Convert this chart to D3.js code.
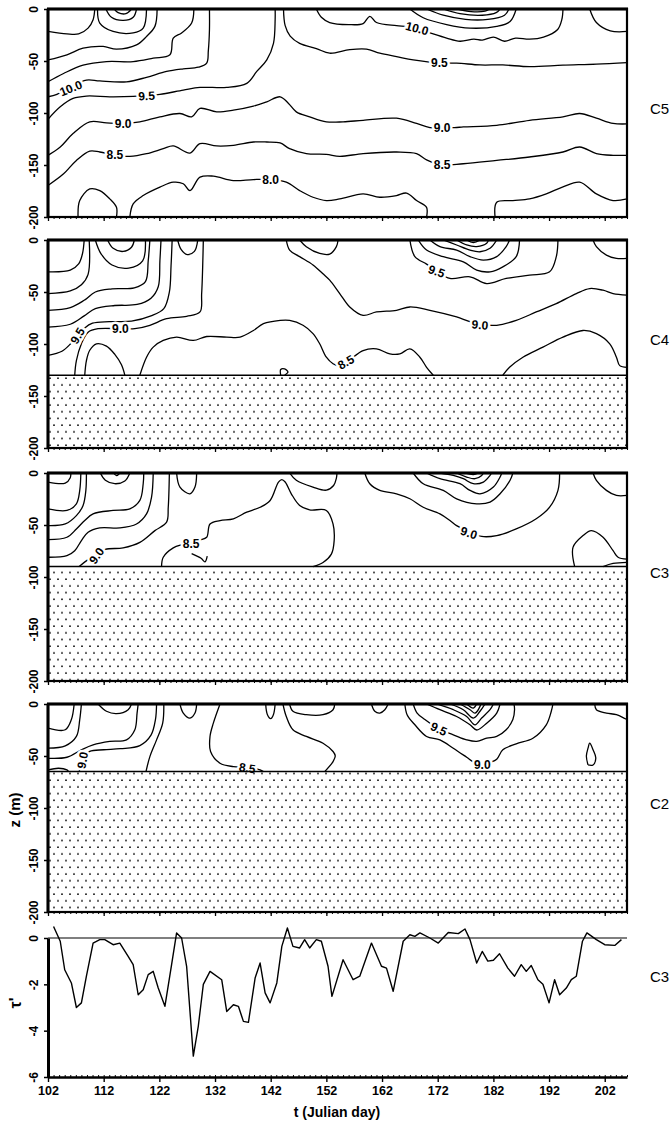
<!DOCTYPE html>
<html>
<head>
<meta charset="utf-8">
<script src="https://cdn.jsdelivr.net/npm/d3@7"></script>
<style>
  body { margin: 0; background: #fff; }
  text { font-family: "Liberation Sans", Arial, sans-serif; }
</style>
</head>
<body>
<svg width="670" height="1123"></svg>
<script>
// ---- data (day, depth in m) ----
const panelNames = ["C5", "C4", "C3", "C2"];
const floorDepth = [-200, -130, -90, -65];
const depthTicks = [0, -50, -100, -150, -200];
const dayTicks = [102, 112, 122, 132, 142, 152, 162, 172, 182, 192, 202];
const tauTicks = [0, -2, -4, -6];

// isotherms for mooring C5
const c5Lines = [
  [[102,-21.6],[105.4,-24],[107.5,-24],[109.2,-18.4],[110.1,-10.3],[110.4,0]],
  [[110.9,0],[111.3,-13.5],[113.7,-21.6],[117.3,-23],[119.1,-18.4],[119.7,0]],
  [[112.4,0],[113.4,-8],[115.5,-11],[117.3,-8],[117.9,0]],
  [[113.9,0],[114.6,-3.5],[116,-4.5],[117,0]],
  [[102,-49],[105.4,-44],[108.3,-37.7],[111.9,-36],[114.3,-38.6],[117.9,-34.5],[119.7,-26.4],[121.2,-16.7],[121.6,0]],
  [[102,-70],[104.8,-62],[108.3,-54],[112.5,-50.6],[117.3,-50.6],[120.9,-47.3],[123.9,-44],[124.5,-28],[126,-23],[127.8,-13.5],[128.2,0]],
  [[102,-84.4],[103.6,-82],[106,-75],[108.9,-68.3],[111.3,-69.2],[116.1,-70],[119.7,-65.7],[123.3,-60],[126.3,-57.5],[129,-56],[130.5,-52],[130.8,-40],[131,-20],[131,0]],
  [[102,-106],[104.2,-94],[106.5,-86],[108.9,-83.7],[113.1,-84.4],[117.3,-84],[119.7,-83],[122.1,-82],[126.3,-78],[129.3,-75.4],[134.1,-75.4],[137.7,-71.5],[139.5,-60],[141.3,-49],[142.5,-33],[142.8,-10],[142.8,0]],
  [[144.3,0],[144.6,-16],[145.5,-26],[147.2,-33],[150.2,-38],[152.6,-42.5],[156.2,-39],[159.2,-38.5],[161.6,-42.5],[164.6,-45.7],[167.6,-49],[172.5,-52],[175.4,-52],[179.6,-53.8],[183.7,-53.8],[188.5,-55.4],[194.5,-54],[200.5,-53],[206,-51.5]],
  [[150.2,0],[151.1,-8],[152.6,-13],[156,-15],[158.6,-14],[159.8,-7],[161,-13],[164.6,-16],[166.5,-17],[168.3,-19],[170.6,-23],[173.6,-28],[176,-31],[178.5,-29],[180,-30],[182,-27],[184,-31],[186,-28],[188.5,-29],[191,-27],[193.5,-20],[194.3,-10],[194.5,0]],
  [[199.3,0],[200.5,-13],[203,-21],[206,-21.6]],
  [[167,0],[169.4,-8.4],[173.6,-15],[177.8,-18.4],[182.6,-16.7],[185,-12],[186.1,0]],
  [[170,0],[173,-6],[177,-10],[181,-10],[184,-6],[184.8,0]],
  [[173,0],[176,-4.5],[180,-6],[182.5,-3.5],[183.2,0]],
  [[175.5,0],[178,-2.5],[180.5,-2],[181.3,0]],
  [[102,-140.7],[104.2,-132.7],[106.5,-119.8],[109.5,-108.5],[112.5,-109.5],[115.5,-110],[118.5,-108.5],[122.1,-103.7],[125.7,-100.5],[127.8,-103.7],[129.3,-95.6],[132.3,-98.9],[135.3,-97.3],[138.9,-93.4],[141.3,-89.2],[143.7,-84.4],[145.2,-90.8],[146.6,-98.9],[149,-103.7],[152,-108.5],[155,-108.5],[158.6,-107],[164.6,-105],[168.2,-110],[170.6,-114],[175,-114],[176.6,-113.4],[182.6,-111.8],[188.5,-107],[194.5,-103.7],[197.5,-100.5],[200.5,-105],[203.5,-110],[206,-110.5]],
  [[102,-169.7],[104.8,-158.5],[107.1,-145.6],[109.5,-136.6],[111.3,-137.5],[114,-140.5],[116.7,-141.7],[119.7,-139.1],[122.7,-134.3],[124.5,-131.7],[127.5,-138.5],[129.3,-129.5],[132.3,-131.7],[135.3,-131.1],[138.9,-127.9],[141.3,-127.9],[143.7,-128.8],[145.4,-134.3],[148.4,-139.1],[152,-139.8],[154.4,-141.7],[158.6,-139],[164.6,-137.5],[168.2,-139],[170,-145],[172.8,-150],[176.6,-148.8],[182.6,-145.6],[188.5,-142.3],[194.5,-137.5],[197.5,-132.7],[200.5,-139],[203.5,-140.7],[206,-140.7]],
  [[116.7,-200],[117.3,-187.4],[119.1,-179.4],[122.1,-171.3],[124.5,-166.5],[126.3,-168],[127.5,-174.6],[129.3,-161.7],[131.7,-160.7],[135.3,-165],[138.9,-164],[142,-164],[144.8,-166.5],[147.2,-174.6],[149.6,-181],[152,-184.2],[154.4,-182.6],[158.6,-177.8],[161.6,-181],[164.6,-179.4],[166.4,-177],[168.2,-184.2],[170,-190.7],[170,-200]],
  [[182.3,-200],[182.6,-185.8],[185.5,-184.2],[188.5,-182.6],[191.5,-177.8],[194.5,-171],[197.5,-166.5],[200.5,-177.8],[203.5,-184.2],[206,-182.6]],
  [[107.4,-200],[107.7,-184.2],[109.5,-173],[111.3,-174.6],[113.1,-182.6],[114.3,-190.7],[114.3,-200]]
];
const c5Labels = [
  [106.1,-76,"10.0",-22],[119.7,-83.5,"9.5",-3],[115.5,-110,"9.0",0],[114,-140.5,"8.5",0],
  [142,-164,"8.0",0],[168.3,-18.5,"10.0",15],[172.3,-52,"9.5",0],[172.8,-114.5,"9.0",0],[172.8,-150,"8.5",0]
];

// isotherms for mooring C4
const c4Lines = [
  [[102,-30.6],[106,-29],[107.5,-23],[108.2,-13],[108.5,0]],
  [[102,-51.5],[106,-49],[108,-43],[109.2,-33],[109.4,0]],
  [[110.5,0],[111.5,-13],[113.5,-24],[116.5,-27],[119,-20],[119.5,0]],
  [[112.7,0],[113.7,-8],[115.5,-11],[117,-7],[117.5,0]],
  [[102,-67.6],[106,-65],[108.5,-58],[110.5,-50],[113.5,-47],[117.5,-46],[119.5,-40],[120,-20],[120.3,0]],
  [[102,-83.7],[106,-81],[108.5,-73],[110.5,-66],[114,-63],[118,-62],[120.5,-56],[121.8,-45],[122.1,-20],[122.3,0]],
  [[102,-111],[104.5,-107],[106.2,-99],[107.4,-92],[108.6,-84.5],[110,-80],[113,-78.5],[117,-78],[120.5,-73],[122.8,-66],[123.8,-50],[124.1,-25],[124.3,0]],
  [[125.3,0],[125.9,-9],[127,-14],[128.3,-11],[128.9,0]],
  [[106.8,-130],[107.1,-116],[108,-99.8],[109.2,-88.6],[111,-85.3],[115,-85.3],[117.6,-85.3],[120.3,-82],[123.3,-75.7],[126.9,-73.4],[129.3,-69.2],[129.6,-51.5],[129.9,0]],
  [[108.6,-130],[108.9,-116],[109.5,-106],[110.7,-99.8],[112.5,-102],[114,-110],[115.2,-120],[115.8,-130]],
  [[118.5,-130],[119.7,-112.7],[120.9,-103],[122.7,-96.6],[125.1,-93.4],[128.1,-96.6],[130.5,-92.8],[134.1,-93.4],[136.5,-93.4],[138.9,-87],[140.7,-80.5],[143.7,-77.3],[145.4,-77.3],[147.8,-82],[149.6,-90],[150.8,-99.8],[152,-112.7],[153.2,-119],[154.4,-121],[156,-116],[158.6,-106.3],[161,-104.7],[163.4,-109.5],[165.2,-109.5],[167,-104.7],[168.8,-112.7],[170,-122.4],[171.2,-130]],
  [[183.7,-130],[184.9,-122.4],[187.3,-112.7],[190.9,-103],[194.5,-93.4],[198.1,-87],[200.5,-90],[202.9,-99.8],[204.1,-112.7],[204.7,-120.8],[206,-122.4]],
  [[143.8,-130],[143.8,-124.5],[144.5,-124],[145.1,-127],[144.5,-130]],
  [[144.8,0],[145.4,-9.7],[147.2,-16],[149.6,-24],[151.5,-33],[152.6,-38.6],[154.4,-51.5],[156.2,-64.4],[158.6,-72.5],[161,-69.2],[164.6,-67.6],[167,-64.4],[170.6,-67.6],[175.4,-74],[177.5,-78],[179.5,-81],[182.6,-82],[186.1,-77.3],[189.7,-69.2],[193.3,-61.2],[196.9,-51.5],[199.3,-46.7],[201.7,-48.3],[203.5,-51.5],[206,-53]],
  [[147.2,0],[148.4,-6.4],[150.8,-12.9],[152.6,-13.5],[153.8,-6.4],[154.1,0]],
  [[167,0],[167.9,-16],[170,-23.2],[171.8,-30],[174.2,-37],[177.8,-35.4],[180.8,-41.9],[184.3,-37],[188.5,-33.8],[192.1,-30.6],[193.3,-16],[193.6,0]],
  [[168.5,0],[170,-9.7],[173,-16],[176.6,-21],[179,-29],[181.4,-30.6],[183.7,-25.8],[186.1,-16],[186.7,0]],
  [[170.6,0],[172.4,-6.4],[175.4,-9.7],[177.8,-16],[180.2,-19.3],[182.6,-16],[184.3,-6.4],[184.9,0]],
  [[173,0],[175.4,-4.8],[177.8,-9.7],[179.6,-11.3],[181.4,-8],[182.6,0]],
  [[175.4,0],[177.2,-4.8],[179,-6.4],[180.8,-3.2],[181.1,0]],
  [[177.2,0],[178.4,-2.4],[179.6,0]],
  [[199.9,0],[200.5,-6.4],[202.3,-14.5],[204.1,-17.7],[206,-17.7]]
];
const c4Labels = [
  [107.3,-92,"9.5",-60],[115,-85.3,"9.0",0],[155.5,-117.5,"8.5",-30],[179.6,-81.5,"9.0",5],[171.8,-30,"9.5",20]
];

// isotherms for mooring C3
const c3Lines = [
  [[102,-8.7],[105.1,-9.7],[106,-4.5],[106.1,0]],
  [[102,-34.5],[105.4,-36],[107.1,-29.6],[107.7,-16.7],[107.9,0]],
  [[102,-50.6],[105.1,-49],[107.1,-41],[108.3,-31.2],[108.8,-16.7],[108.9,0]],
  [[102,-64],[105.4,-61.8],[107.1,-53.8],[108.6,-45.7],[110.1,-39.3],[113.7,-36],[116.7,-34.5],[118.5,-26.4],[119.1,-10.3],[119.2,0]],
  [[111.4,0],[112.3,-7],[114,-10.3],[115.8,-7.7],[116.7,0]],
  [[113.8,0],[114.3,-2.6],[114.9,0]],
  [[102,-81],[105.4,-79.5],[106.8,-74.7],[108,-65],[109.2,-57],[111.3,-52.8],[114.9,-52.8],[117.9,-49],[119.7,-39.3],[120.6,-23.2],[120.9,0]],
  [[107.6,-90],[109,-84],[110.7,-79],[112.3,-73.5],[115.5,-72],[118.5,-66.7],[121.2,-55.4],[123.3,-47.3],[123.6,-32.9],[123.8,0]],
  [[125.1,0],[125.7,-13.5],[127.5,-20],[128.4,-13.5],[128.7,0]],
  [[122.4,-90],[122.7,-81],[124.5,-72],[126,-69],[127.8,-67],[129.3,-64.5],[130.5,-61.8],[131.1,-49],[132.9,-45.7],[135.3,-44],[137.7,-37.7],[140.1,-32.9],[141.9,-26.4],[143.4,-8.7],[144,-6.4],[144.6,-8.7],[145.7,-20],[147.2,-31.2],[149,-35.4],[152,-36],[153.2,-49],[153.4,-65],[152.9,-78],[151.4,-86],[149.6,-90]],
  [[127.8,-77.5],[129.5,-82],[130.2,-85.5],[130.6,-80]],
  [[145.4,0],[146.6,-7],[149.6,-13.5],[152,-16.5],[153.3,-12],[153.8,-5],[153.9,0]],
  [[158.9,0],[159.8,-10.3],[161.6,-16.7],[164.6,-20],[167,-24.8],[169.4,-32.9],[172.4,-39.3],[174.2,-45.7],[175.4,-50.6],[177.5,-56],[179.9,-61],[182.6,-60.2],[186.1,-53.8],[189.7,-44],[192.1,-32.9],[193.6,-16.7],[193.9,0]],
  [[167.6,0],[169.4,-10.3],[173,-16.7],[175.4,-24.8],[179,-29.6],[181.4,-28],[183.2,-20],[185,-7],[185.5,0]],
  [[170,0],[172.4,-5.5],[176,-10.3],[177.8,-16.7],[179.6,-20],[182,-13.5],[183.2,-3.9],[183.5,0]],
  [[172.4,0],[174.8,-2.3],[176.6,-5.5],[178.4,-10.3],[180.2,-8.7],[181.4,-2.3],[181.7,0]],
  [[175.4,0],[177.2,-3.9],[178.7,-5.5],[179.9,-2.3],[180.2,0]],
  [[176.9,0],[178.4,-1.6],[179.3,0]],
  [[199.9,0],[200.5,-7],[202.3,-16.7],[204.1,-21.6],[206,-21.6]],
  [[196.6,-90],[196.3,-71.5],[198.1,-60.2],[199.6,-55.4],[201.7,-61.8],[203.5,-74.7],[204.4,-81],[206,-82.8]],
  [[201.7,-90],[203.5,-87],[206,-86]]
];
const c3Labels = [
  [110.7,-79.5,"9.0",-55],[127.7,-68,"8.5",0],[177.6,-57.5,"9.0",18]
];

// isotherms for mooring C2
const c2Lines = [
  [[102,-23.2],[105.1,-24.8],[106.2,-15],[106.7,0]],
  [[102,-42.5],[105.1,-40.3],[107.1,-31.2],[107.7,-15],[108,0]],
  [[102,-52.2],[105.4,-51.2],[108,-44],[110.1,-39.3],[113.1,-36],[116.1,-34.5],[117.6,-24.8],[118,-8.7],[118.2,0]],
  [[111,0],[112.5,-7],[114.3,-9.3],[116.4,-5.5],[117,0]],
  [[107.6,-65],[108,-58],[108.5,-50],[109.5,-45.5],[112,-44],[115,-43],[118.5,-40],[120.5,-30],[121.3,-15],[121.5,0]],
  [[102,-63.4],[103.9,-61.8],[105.4,-63.4],[105.7,-65]],
  [[122.8,0],[122.6,-18.4],[121.5,-34.5],[120.3,-50.6],[119.6,-65]],
  [[125.7,0],[126.3,-8.7],[127.5,-13.5],[128.4,-8.7],[128.7,0]],
  [[132.9,0],[131.7,-18.4],[131.1,-31.2],[131.2,-45.7],[132.9,-57],[135.3,-60.2],[137.8,-61],[140.1,-63.4],[140.7,-65]],
  [[141.1,0],[141.4,-10],[142,-14],[142.5,-10],[142.8,0]],
  [[144.2,0],[144.8,-12],[146,-24.8],[148.4,-31.2],[151.4,-37.7],[153.2,-45.7],[153.6,-50],[153.2,-55.4],[151.7,-65]],
  [[145.4,0],[146,-7],[148.4,-10.3],[151.4,-10.3],[153.2,-5.5],[153.5,0]],
  [[160.1,0],[160.7,-7],[161.6,-8.7],[162.5,-5.5],[163.1,0]],
  [[166.1,0],[166.5,-10.3],[167.9,-20],[170,-31.2],[172.4,-34.5],[174.8,-42.5],[177.2,-51.2],[178.5,-56],[180,-58],[181.5,-56],[182.6,-53.1],[183.7,-44],[186.1,-38.3],[189.1,-32.9],[191.5,-20],[192.4,-7],[192.7,0]],
  [[167.6,0],[168.3,-8.7],[169.7,-15],[171.3,-21],[173,-26],[174.8,-29.6],[177.2,-34.5],[179,-36],[180.8,-32.9],[182.6,-31.2],[184.3,-24.8],[185.5,-15],[185.8,-5.5],[185.7,0]],
  [[170,0],[172.4,-5.5],[175.4,-12],[177.8,-20],[179,-25],[180.8,-18.4],[182.6,-8.7],[183.2,0]],
  [[171.8,0],[174.8,-5.5],[177.2,-12],[178.7,-20],[179.9,-13.5],[181.4,-5.5],[182,0]],
  [[174.2,0],[176.6,-5.5],[178.4,-13.5],[179.6,-7],[180.5,0]],
  [[176,0],[177.8,-5.5],[178.7,-8.7],[179.6,-2.3],[179.7,0]],
  [[177.2,0],[178.4,-3.9],[179,0]],
  [[200.2,0],[200.5,-5.5],[202.3,-8.7],[204.1,-10.3],[206,-15]],
  [[199,-58.6],[198.7,-50],[199,-42.5],[199.3,-37.7],[199.9,-44],[200.4,-52],[199.9,-58.6],[199,-58.6]]
];
const c2Labels = [
  [108.2,-54,"9.0",-80],[137.8,-61.5,"8.5",8],[180,-58,"9.0",0],[172.2,-24,"9.5",25]
];

// wind stress tau' at C3
const tauDays = [103,104.2,105,106.2,107.1,108,108.9,110.1,111.3,112.2,113.7,114.9,116.4,117.3,118.2,119.1,120,120.9,121.8,123,124.2,125.1,126,126.9,128.1,129,129.9,131.1,133.2,134.1,135.3,136.2,137.1,138,139.2,140.1,141,141.9,143.1,144,145,146,147.2,148.1,149,150.2,151.1,152.3,153,155,156.8,158,160.1,161.9,162.8,164,165.8,167,167.9,168.8,170.6,172.1,173.9,175.7,176.9,177.8,179,180,181,182,183.1,184.6,185.8,187,187.9,188.8,190,190.9,192,193,193.9,195.1,196,196.9,198,198.8,200.5,202,203.8,205];
const tauValues = [0.5,-0.14,-1.37,-1.94,-3.0,-2.8,-1.65,-0.22,-0.07,-0.07,-0.29,-0.22,-0.79,-1.15,-2.45,-2.23,-1.58,-1.44,-2.16,-2.95,-1.15,0.22,0,-1.22,-5.1,-3.8,-2.0,-1.44,-1.8,-3.17,-2.88,-2.95,-3.6,-3.64,-1.73,-1.08,-2.37,-2.8,-1.94,-0.36,0.43,-0.36,-0.43,-0.07,-0.43,-0.07,-0.14,-1.22,-2.52,-0.94,-1.8,-1.65,-0.22,-1.22,-1.3,-2.3,-0.14,0.14,0.07,0.22,0,-0.22,0.24,0.19,0.39,-0.07,-1.08,-0.58,-1.0,-0.96,-0.68,-1.3,-1.65,-1.15,-1.44,-1.19,-1.8,-2.0,-2.8,-1.8,-2.45,-2.16,-1.8,-1.65,-0.14,0.22,-0.07,-0.29,-0.32,-0.07];

const allLines = [c5Lines, c4Lines, c3Lines, c2Lines];
const allLabels = [c5Labels, c4Labels, c3Labels, c2Labels];

// ---- layout ----
const svg = d3.select("svg");
const x = d3.scaleLinear().domain([102, 206]).range([48, 627]);
const panelTop = [9, 240, 473, 704];
const panelH = 208;
const font = "Liberation Sans, Arial, sans-serif";

const defs = svg.append("defs");
const pat = defs.append("pattern").attr("id", "dots")
  .attr("patternUnits", "userSpaceOnUse").attr("width", 8).attr("height", 13.4);
pat.append("circle").attr("cx", 2).attr("cy", 3).attr("r", 0.9).attr("fill", "#000");
pat.append("circle").attr("cx", 6).attr("cy", 9.7).attr("r", 0.9).attr("fill", "#000");

panelNames.forEach((name, i) => {
  const top = panelTop[i];
  const y = d3.scaleLinear().domain([0, -200]).range([top, top + panelH]);
  const g = svg.append("g");

  defs.append("clipPath").attr("id", "clip" + i).append("rect")
    .attr("x", x(102)).attr("y", top).attr("width", x(206) - x(102)).attr("height", panelH);

  const line = d3.line().x(d => x(d[0])).y(d => y(d[1])).curve(d3.curveCatmullRom.alpha(0.5));
  g.append("g").attr("clip-path", `url(#clip${i})`)
    .selectAll("path").data(allLines[i]).join("path")
    .attr("d", line).attr("fill", "none").attr("stroke", "#000")
    .attr("stroke-width", 1.3).attr("stroke-linejoin", "round");

  g.selectAll("text.clab").data(allLabels[i]).join("text")
    .attr("class", "clab")
    .attr("transform", d => `translate(${x(d[0])},${y(d[1])}) rotate(${d[3]})`)
    .attr("text-anchor", "middle").attr("dy", "0.36em")
    .attr("font-size", 12).attr("font-weight", "bold")
    .attr("stroke", "#fff").attr("stroke-width", 5).attr("stroke-linejoin", "round")
    .attr("paint-order", "stroke")
    .text(d => d[2]);

  // sea floor (stippled)
  const fl = floorDepth[i];
  if (fl > -200) {
    g.append("rect").attr("x", x(102)).attr("y", y(fl))
      .attr("width", x(206) - x(102)).attr("height", y(-200) - y(fl))
      .attr("fill", "url(#dots)");
    g.append("line").attr("x1", x(102)).attr("x2", x(206))
      .attr("y1", y(fl)).attr("y2", y(fl)).attr("stroke", "#000").attr("stroke-width", 1.5);
  }

  // axes
  const ya = g.append("g").attr("transform", `translate(${x(102)},0)`)
    .call(d3.axisLeft(y).tickValues(depthTicks).tickSize(4).tickSizeOuter(0).tickFormat(d => String(d)));
  ya.select(".domain").remove();
  ya.selectAll("line").attr("stroke-width", 1.5);
  ya.selectAll("text")
    .attr("transform", "rotate(-90)").attr("x", 0).attr("y", -10).attr("dy", 0)
    .attr("text-anchor", "middle").attr("font-size", 12).attr("font-weight", "bold")
    .attr("font-family", font);

  const xa = g.append("g").attr("transform", `translate(0,${top + panelH})`)
    .call(d3.axisBottom(x).tickValues(dayTicks).tickSize(4).tickSizeOuter(0).tickFormat(""));
  xa.select(".domain").remove();
  xa.selectAll("line").attr("stroke-width", 1.3);
  const xm = g.append("g").attr("transform", `translate(0,${top + panelH})`)
    .call(d3.axisBottom(x).tickValues(d3.range(102, 207)).tickSize(2).tickSizeOuter(0).tickFormat(""));
  xm.select(".domain").remove();

  // frame
  g.append("rect").attr("x", x(102)).attr("y", top).attr("width", x(206) - x(102)).attr("height", panelH)
    .attr("fill", "none").attr("stroke", "#000").attr("stroke-width", 2.2);
  g.append("line").attr("x1", x(102) - 1).attr("x2", x(206) + 1).attr("y1", top).attr("y2", top)
    .attr("stroke", "#000").attr("stroke-width", 3.2);
  g.append("line").attr("x1", x(102)).attr("x2", x(102)).attr("y1", top).attr("y2", top + panelH)
    .attr("stroke", "#000").attr("stroke-width", 3);

  svg.append("text").attr("x", 650).attr("y", top + 100).attr("dy", "0.36em")
    .attr("font-size", 15).text(name);
});

// ---- wind stress panel ----
const yt = d3.scaleLinear().domain([0, -6]).range([938, 1077]);
const g5 = svg.append("g");
g5.append("line").attr("x1", x(102)).attr("x2", x(206)).attr("y1", yt(0)).attr("y2", yt(0))
  .attr("stroke", "#000").attr("stroke-width", 1.2);
g5.append("path").datum(tauDays.map((d, k) => [d, tauValues[k]]))
  .attr("d", d3.line().x(d => x(d[0])).y(d => yt(d[1])))
  .attr("fill", "none").attr("stroke", "#000").attr("stroke-width", 1.4).attr("stroke-linejoin", "round");

const ta = g5.append("g").attr("transform", `translate(${x(102)},0)`)
  .call(d3.axisLeft(yt).tickValues(tauTicks).tickSize(4).tickSizeOuter(0).tickFormat(d => String(d)));
ta.select(".domain").attr("stroke-width", 3);
ta.selectAll("line").attr("stroke-width", 1.5);
ta.selectAll("text")
  .attr("transform", "rotate(-90)").attr("x", 0).attr("y", -10).attr("dy", 0)
  .attr("text-anchor", "middle").attr("font-size", 12).attr("font-weight", "bold")
  .attr("font-family", font);

const tb = g5.append("g").attr("transform", `translate(0,${yt(-6)})`)
  .call(d3.axisBottom(x).tickValues(dayTicks).tickSize(5).tickSizeOuter(0).tickPadding(4));
tb.select(".domain").attr("stroke-width", 2.5);
tb.selectAll("line").attr("stroke-width", 1.4);
tb.selectAll("text").attr("font-size", 12.5).attr("font-weight", "bold").attr("font-family", font);
const tm = g5.append("g").attr("transform", `translate(0,${yt(-6)})`)
  .call(d3.axisBottom(x).tickValues(d3.range(102, 207)).tickSize(-2).tickSizeOuter(0).tickFormat(""));
tm.select(".domain").remove();

svg.append("text").attr("x", 650).attr("y", 977).attr("dy", "0.36em").attr("font-size", 15).text("C3");

// axis titles
svg.append("text").attr("x", 337).attr("y", 1117).attr("text-anchor", "middle")
  .attr("font-size", 14).attr("font-weight", "bold").text("t (Julian day)");
svg.append("text").attr("transform", "translate(20,810) rotate(-90)").attr("text-anchor", "middle")
  .attr("font-size", 15).attr("font-weight", "bold").text("z (m)");
svg.append("text").attr("transform", "translate(21,1003) rotate(-90)").attr("text-anchor", "middle")
  .attr("font-size", 16).attr("font-weight", "bold").text("τ'");
</script>
</body>
</html>
